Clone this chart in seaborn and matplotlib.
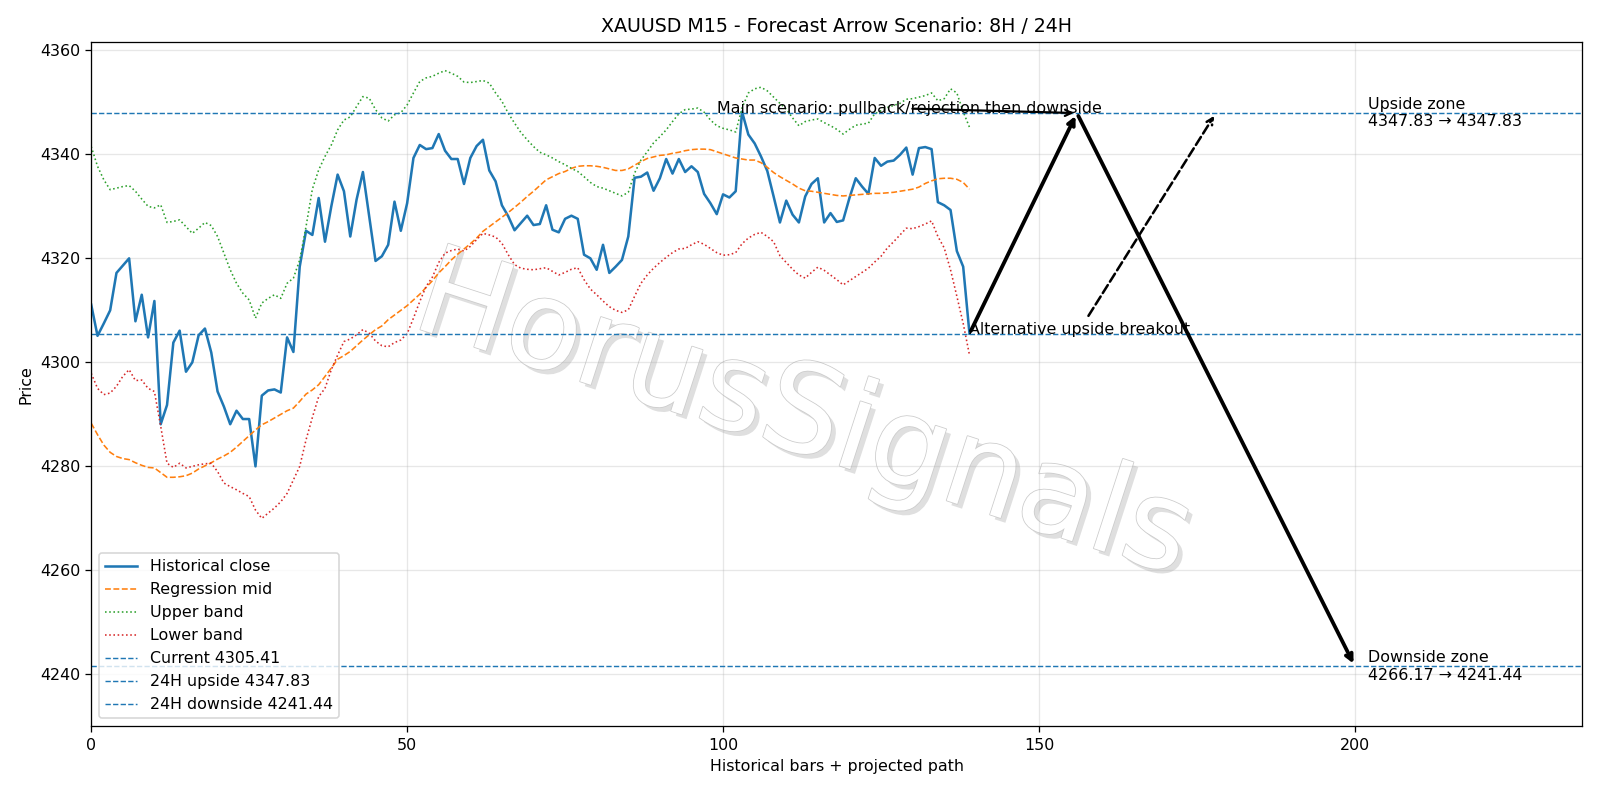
import numpy as np
import pandas as pd
import matplotlib
matplotlib.use("Agg")
import matplotlib.pyplot as plt
import matplotlib.patheffects as pe
import seaborn as sns

# historical close (M15 bars)
close = [4311.0, 4305.0, 4307.4, 4309.9, 4317.1, 4318.5, 4319.9, 4307.8, 4312.9, 4304.7,
         4311.7, 4288.0, 4291.7, 4303.7, 4306.0, 4298.1, 4299.9, 4305.1, 4306.4, 4301.8,
         4294.3, 4291.4, 4288.0, 4290.6, 4289.0, 4289.0, 4279.9, 4293.5, 4294.5, 4294.7,
         4294.1, 4304.7, 4301.9, 4318.3, 4325.2, 4324.4, 4331.5, 4323.1, 4329.9, 4336.0,
         4332.8, 4324.1, 4331.2, 4336.5, 4328.0, 4319.4, 4320.3, 4322.5, 4330.8, 4325.2,
         4330.5, 4339.2, 4341.7, 4340.9, 4341.1, 4343.8, 4340.6, 4339.0, 4339.0, 4334.2,
         4339.2, 4341.5, 4342.7, 4336.8, 4334.7, 4330.1, 4328.0, 4325.3, 4326.7, 4328.1,
         4326.3, 4326.5, 4330.1, 4325.4, 4324.9, 4327.5, 4328.1, 4327.5, 4320.6, 4319.9,
         4317.7, 4322.5, 4317.1, 4318.3, 4319.6, 4324.1, 4335.4, 4335.6, 4336.4, 4332.9,
         4335.3, 4339.0, 4336.2, 4339.0, 4336.5, 4337.6, 4336.5, 4332.3, 4330.5, 4328.4,
         4332.2, 4331.6, 4332.8, 4348.1, 4343.7, 4342.0, 4339.5, 4336.7, 4331.8, 4326.8,
         4331.0, 4328.3, 4326.8, 4331.8, 4334.2, 4335.3, 4326.8, 4328.6, 4326.9, 4327.2,
         4331.5, 4335.3, 4333.7, 4332.3, 4339.2, 4337.7, 4338.5, 4338.7, 4339.8, 4341.2,
         4336.0, 4341.1, 4341.3, 4340.9, 4330.7, 4330.1, 4329.2, 4321.3, 4318.3, 4305.41]

reg_mid = [4288.2, 4286.0, 4284.0, 4282.6, 4281.8, 4281.4, 4281.2, 4280.6, 4280.1, 4279.7,
           4279.6, 4278.7, 4277.8, 4277.8, 4277.9, 4278.1, 4278.6, 4279.4, 4280.0, 4280.6,
           4281.3, 4281.9, 4282.6, 4283.6, 4284.7, 4285.8, 4286.9, 4287.9, 4288.5, 4289.2,
           4289.9, 4290.6, 4291.1, 4292.4, 4293.8, 4294.6, 4295.6, 4297.2, 4298.8, 4300.5,
           4301.2, 4302.0, 4303.1, 4304.2, 4305.2, 4306.2, 4306.9, 4308.1, 4309.0, 4309.9,
           4310.8, 4311.9, 4313.0, 4314.3, 4315.6, 4317.1, 4318.3, 4319.6, 4320.7, 4321.7,
           4322.7, 4323.8, 4325.1, 4326.0, 4326.9, 4327.8, 4328.7, 4329.7, 4330.7, 4331.8,
           4332.8, 4333.9, 4335.0, 4335.6, 4336.2, 4336.6, 4337.2, 4337.6, 4337.7, 4337.7,
           4337.6, 4337.4, 4337.1, 4336.8, 4336.8, 4337.1, 4337.8, 4338.5, 4339.1, 4339.4,
           4339.7, 4339.8, 4340.1, 4340.3, 4340.6, 4340.8, 4340.9, 4340.9, 4340.8, 4340.4,
           4340.0, 4339.6, 4339.2, 4339.0, 4338.8, 4338.8, 4338.3, 4337.4, 4336.4, 4335.6,
           4334.9, 4334.2, 4333.4, 4332.9, 4332.8, 4332.6, 4332.4, 4332.2, 4332.0, 4331.9,
           4332.0, 4332.1, 4332.2, 4332.3, 4332.4, 4332.4, 4332.5, 4332.6, 4332.8, 4333.0,
           4333.2, 4333.6, 4334.3, 4334.8, 4335.2, 4335.3, 4335.3, 4335.1, 4334.5, 4333.2]

upper_band = [4341.4, 4337.6, 4335.0, 4333.1, 4333.4, 4333.7, 4333.9, 4332.8, 4331.3, 4329.9,
              4329.6, 4330.2, 4326.8, 4327.0, 4327.3, 4326.0, 4324.7, 4325.7, 4326.8, 4326.2,
              4324.1, 4320.9, 4317.7, 4315.1, 4313.2, 4311.9, 4308.4, 4311.3, 4312.2, 4312.9,
              4312.2, 4315.1, 4316.1, 4319.6, 4326.0, 4333.2, 4336.9, 4339.5, 4341.7, 4344.6,
              4346.5, 4347.1, 4349.1, 4351.0, 4350.7, 4348.5, 4346.9, 4346.3, 4347.5, 4347.9,
              4349.4, 4351.7, 4353.9, 4354.6, 4354.9, 4355.5, 4356.0, 4355.5, 4354.9, 4353.8,
              4353.7, 4353.9, 4354.1, 4353.6, 4351.7, 4350.1, 4347.8, 4345.9, 4344.1, 4342.7,
              4341.4, 4340.3, 4339.8, 4339.2, 4338.5, 4337.9, 4337.2, 4336.6, 4335.6, 4334.5,
              4333.7, 4333.4, 4332.9, 4332.4, 4331.9, 4332.6, 4336.3, 4338.8, 4340.4, 4342.1,
              4343.3, 4344.6, 4346.2, 4347.7, 4348.5, 4348.6, 4348.8, 4348.0, 4346.5, 4345.4,
              4344.9, 4344.6, 4344.2, 4348.8, 4351.7, 4352.5, 4352.8, 4352.1, 4350.9, 4349.7,
              4348.6, 4346.9, 4345.4, 4346.2, 4346.5, 4346.7, 4346.0, 4345.4, 4344.7, 4343.8,
              4344.7, 4345.5, 4345.7, 4345.9, 4347.7, 4348.3, 4348.9, 4349.3, 4349.7, 4350.5,
              4350.6, 4350.9, 4351.2, 4351.7, 4350.2, 4350.6, 4352.5, 4351.7, 4348.1, 4345.1]

lower_band = [4297.8, 4294.9, 4293.7, 4294.0, 4295.3, 4297.2, 4298.5, 4296.4, 4296.5, 4294.9,
              4294.3, 4287.6, 4280.5, 4279.7, 4280.5, 4279.6, 4279.9, 4280.2, 4280.4, 4280.5,
              4278.9, 4276.7, 4276.0, 4275.4, 4274.7, 4274.1, 4271.5, 4269.9, 4270.9, 4271.9,
              4273.1, 4274.7, 4277.3, 4279.9, 4285.0, 4289.3, 4293.3, 4294.9, 4298.5, 4301.3,
              4303.9, 4304.4, 4305.2, 4306.2, 4305.5, 4304.0, 4303.1, 4302.9, 4303.7, 4304.2,
              4305.4, 4308.4, 4311.6, 4314.5, 4316.3, 4319.1, 4320.9, 4321.4, 4321.7, 4321.3,
              4322.2, 4323.5, 4324.7, 4324.4, 4324.0, 4322.8, 4320.6, 4318.7, 4318.0, 4317.8,
              4317.7, 4317.9, 4318.1, 4317.4, 4316.7, 4317.2, 4317.8, 4318.1, 4315.8, 4314.0,
              4312.9, 4311.7, 4310.6, 4309.9, 4309.5, 4310.0, 4312.6, 4315.1, 4316.7, 4318.0,
              4319.1, 4320.1, 4321.0, 4321.7, 4321.8, 4322.5, 4323.1, 4322.6, 4321.8, 4321.0,
              4320.5, 4320.6, 4321.0, 4322.7, 4323.8, 4324.5, 4324.9, 4324.1, 4323.1, 4320.4,
              4319.1, 4317.8, 4316.7, 4316.1, 4317.2, 4318.2, 4317.6, 4316.7, 4315.8, 4314.8,
              4315.6, 4316.4, 4317.2, 4318.0, 4319.2, 4320.3, 4321.9, 4323.1, 4324.4, 4325.7,
              4325.6, 4326.0, 4326.5, 4327.1, 4324.1, 4321.9, 4317.7, 4312.6, 4307.4, 4301.3]

current_price = 4305.41
up_24h = 4347.83
down_8h = 4266.17
down_24h = 4241.44

# forecast path points (bar index)
last_bar = 139
peak_bar = 156
target_bar = 200
alt_bar = 178
main_text_bar = 99
zone_text_bar = 202

df = pd.DataFrame({
    "bar": np.arange(len(close)),
    "close": close,
    "mid": reg_mid,
    "upper": upper_band,
    "lower": lower_band,
})

fig, ax = plt.subplots(figsize=(14, 7), dpi=800 / 7)

sns.lineplot(data=df, x="bar", y="close", ax=ax, color="C0", lw=1.6, label="Historical close")
sns.lineplot(data=df, x="bar", y="mid", ax=ax, color="C1", lw=1.0, linestyle="--", label="Regression mid")
sns.lineplot(data=df, x="bar", y="upper", ax=ax, color="C2", lw=1.0, linestyle=":", label="Upper band")
sns.lineplot(data=df, x="bar", y="lower", ax=ax, color="C3", lw=1.0, linestyle=":", label="Lower band")

ax.axhline(current_price, color="C0", linestyle="--", lw=0.9, label=f"Current {current_price:.2f}")
ax.axhline(up_24h, color="C0", linestyle="--", lw=0.9, label=f"24H upside {up_24h:.2f}")
ax.axhline(down_24h, color="C0", linestyle="--", lw=0.9, label=f"24H downside {down_24h:.2f}")

# main scenario: up to rejection, then down
ax.annotate("", xy=(peak_bar, up_24h), xytext=(last_bar, current_price),
            arrowprops=dict(arrowstyle="->", lw=2.4, color="black"))
ax.annotate("", xy=(target_bar, down_24h), xytext=(peak_bar, up_24h),
            arrowprops=dict(arrowstyle="->", lw=2.4, color="black"))
ax.annotate("Main scenario: pullback/rejection then downside",
            xy=(peak_bar, up_24h), xytext=(main_text_bar, up_24h),
            fontsize=10, arrowprops=dict(arrowstyle="->", lw=1.4, color="black"))
# alternative breakout
ax.annotate("Alternative upside breakout",
            xy=(alt_bar, up_24h), xytext=(last_bar, current_price),
            fontsize=10, arrowprops=dict(arrowstyle="->", lw=1.6, linestyle="--", color="black"))

ax.text(zone_text_bar, up_24h, f"Upside zone\n{up_24h:.2f} \u2192 {up_24h:.2f}", va="center", fontsize=10)
ax.text(zone_text_bar, down_24h, f"Downside zone\n{down_8h:.2f} \u2192 {down_24h:.2f}", va="center", fontsize=10)

# watermark
ax.text(0.502, 0.478, "HorusSignals", transform=fig.transFigure, fontsize=78,
        color="white", rotation=-18, ha="center", va="center", zorder=0.5,
        path_effects=[pe.SimplePatchShadow(offset=(3, -3), shadow_rgbFace=(0.55, 0.55, 0.55), alpha=0.28),
                      pe.Stroke(linewidth=1.0, foreground="#cccccc"),
                      pe.Normal()])

ax.set_xlim(0, 236)
ax.set_ylim(4229.9, 4361.5)
ax.set_title("XAUUSD M15 - Forecast Arrow Scenario: 8H / 24H")
ax.set_xlabel("Historical bars + projected path")
ax.set_ylabel("Price")
ax.grid(True, alpha=0.3)
ax.legend(loc="lower left")

plt.subplots_adjust(left=0.057, right=0.989, top=0.9475, bottom=0.092)
plt.savefig("out.png", dpi=800 / 7)
